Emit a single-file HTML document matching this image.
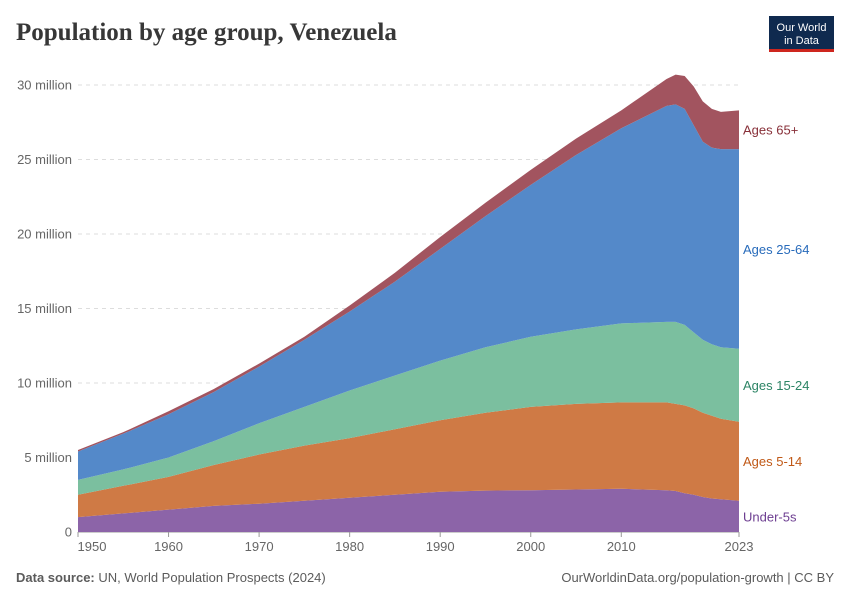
<!DOCTYPE html>
<html><head><meta charset="utf-8"><style>
body{margin:0;background:#fff;font-family:"Liberation Sans",sans-serif}
svg text{font-family:"Liberation Sans",sans-serif}
</style></head><body>
<svg width="850" height="600" viewBox="0 0 850 600">
<text x="16" y="40" font-size="25" font-weight="bold" fill="#373737" style="font-family:'Liberation Serif',serif">Population by age group, Venezuela</text>
<g>
<rect x="769" y="16" width="65" height="36" fill="#0f2a4f"/>
<rect x="769" y="49" width="65" height="3" fill="#ce261e"/>
<text x="801.5" y="31" font-size="11" fill="#fff" text-anchor="middle">Our World</text>
<text x="801.5" y="44" font-size="11" fill="#fff" text-anchor="middle">in Data</text>
</g>
<g id="grid"></g>
<g id="areas"></g>
<g id="labels"></g>
<text x="16" y="582" font-size="13" fill="#5b5b5b"><tspan font-weight="bold">Data source:</tspan> UN, World Population Prospects (2024)</text>
<text x="834" y="582" font-size="13" fill="#5b5b5b" text-anchor="end">OurWorldinData.org/population-growth | CC BY</text>
</svg>
<script>
const years=[1950,1955,1960,1965,1970,1975,1980,1985,1990,1995,2000,2005,2010,2015,2016,2017,2018,2019,2020,2021,2023];
const under5=[1.0,1.25,1.5,1.75,1.9,2.1,2.3,2.5,2.7,2.78,2.8,2.85,2.9,2.8,2.75,2.6,2.5,2.35,2.25,2.2,2.1];
const age5to14=[1.5,1.85,2.2,2.75,3.3,3.7,4.0,4.4,4.8,5.22,5.6,5.75,5.8,5.9,5.85,5.9,5.8,5.65,5.55,5.4,5.3];
const age15to24=[1.0,1.1,1.3,1.6,2.1,2.6,3.2,3.6,4.0,4.4,4.7,5.0,5.3,5.4,5.5,5.4,5.1,4.9,4.8,4.8,4.9];
const age25to64=[1.9,2.4,2.9,3.3,3.8,4.5,5.3,6.3,7.5,8.8,10.2,11.7,13.1,14.5,14.6,14.5,13.9,13.3,13.2,13.3,13.4];
const age65plus=[0.1,0.1,0.2,0.2,0.2,0.2,0.4,0.6,0.8,0.9,1.0,1.1,1.2,1.8,2.0,2.2,2.6,2.7,2.6,2.5,2.6];
const yTicks=[0,5,10,15,20,25,30];
const xTicks=[1950,1960,1970,1980,1990,2000,2010,2023];
const NS="http://www.w3.org/2000/svg";
const x=y=>78+(y-1950)*(739-78)/73;
const yS=v=>532-v*(532-85)/30;
function mk(t,a,p){const e=document.createElementNS(NS,t);for(const k in a)e.setAttribute(k,a[k]);p.appendChild(e);return e;}
const grid=document.getElementById('grid');
yTicks.forEach(t=>{
 if(t>0){const l=mk('line',{x1:78,x2:739,y1:yS(t),y2:yS(t),stroke:'#ddd','stroke-dasharray':'4,4'},grid);
 
 }
 const tx=mk('text',{x:72,y:yS(t)+4.5,'font-size':13,fill:'#666','text-anchor':'end'},grid);
 tx.textContent=t===0?'0':t+' million';
 
 
});
xTicks.forEach(t=>{
 const tx=mk('text',{x:t===1950?92:x(t),y:551,'font-size':13,fill:'#666','text-anchor':'middle'},grid);
 tx.textContent=t;
 
 
 mk('line',{x1:x(t),x2:x(t),y1:532,y2:537,stroke:'#999'},grid);
});
const series=[under5,age5to14,age15to24,age25to64,age65plus];
const names=['Under-5s','Ages 5-14','Ages 15-24','Ages 25-64','Ages 65+'];
const fills=['#8c64a8','#cf7a45','#7bbf9f','#5489c9','#a2545f'];
const tcol=['#6d3e91','#c05917','#2c8465','#286bbb','#883039'];
const ids=['under-5s','ages-5-14','ages-15-24','ages-25-64','ages-65-plus'];
const areas=document.getElementById('areas'),labels=document.getElementById('labels');
let base=years.map(()=>0);
series.forEach((s,i)=>{
 const top=base.map((b,j)=>b+s[j]);
 let d='M'+years.map((y,j)=>x(y)+','+yS(top[j])).join('L');
 d+='L'+years.map((y,j)=>x(y)+','+yS(base[j])).reverse().join('L')+'Z';
 const p=mk('path',{d:d,fill:fills[i],stroke:'none'},areas);
 
 
 const n=years.length-1;
 const ly=(yS(top[n])+yS(base[n]))/2+5;
 const t=mk('text',{x:743,y:ly,'font-size':13,fill:tcol[i]},labels);
 t.textContent=names[i];
 
 
 base=top;
});
mk('line',{x1:78,x2:739,y1:532,y2:532,stroke:'#999'},grid);
</script>
</body></html>
